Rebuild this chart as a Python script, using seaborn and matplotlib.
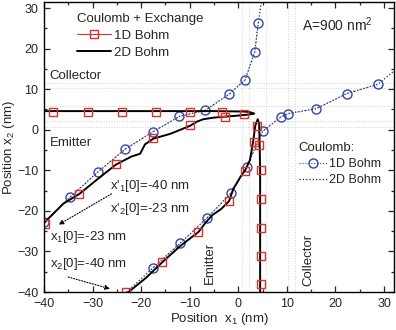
import seaborn as sns
import matplotlib.pyplot as plt
from matplotlib.lines import Line2D

sns.set_theme(
    style="ticks",
    rc={
        "axes.linewidth": 1.0,
        "xtick.labelsize": 9,
        "ytick.labelsize": 9,
        "axes.labelsize": 9.5,
        "legend.fontsize": 9.5,
        "mathtext.default": "regular",
    },
)
plt.rcParams["font.family"] = ["Liberation Sans", "DejaVu Sans"]

RED = "#e0302a"
BLUE = "#3346a8"

# Coulomb + Exchange, 2D Bohm (black solid), two trajectories
exA_x = [-40, -36, -32.7, -29, -25.2, -22.0, -20.2, -19.2, -17.5, -14.0, -11.3, -9.9,
         -8.5, -7.2, -5.0, -3.1, 0.0, 2.4, 3.3, 2.2, 1.0, -5, -20, -40]
exA_y = [-23.0, -18.2, -15.8, -12.2, -8.6, -6.6, -5.9, -3.6, -2.2, -1.0, 0.3, 1.0,
         2.0, 2.6, 3.0, 3.2, 3.5, 3.8, 4.0, 4.4, 4.5, 4.6, 4.6, 4.6]
exB_x = [-22.6, -19.0, -15.6, -12.0, -8.2, -6.8, -5.3, -3.5, -1.9, -1.0, 0.5, 1.4,
         2.4, 3.1, 3.5, 4.0, 4.3, 4.4, 4.5, 4.5]
exB_y = [-40, -36.5, -32.6, -28.7, -25.2, -23.0, -21.0, -19.5, -17.6, -14.5, -11.5, -10.0,
         -7.5, -2.6, 1.0, 2.6, 1.5, -3.4, -10, -40]

# Coulomb + Exchange, 1D Bohm (red squares)
sqA_x = [-39.8, -32.8, -25.2, -17.5, -9.9, -2.7, 1.2, -3.4, -9.9, -17.0, -24.0, -31.0, -38.2]
sqA_y = [-23.2, -15.8, -8.5, -2.0, 1.1, 3.2, 3.8, 4.3, 4.4, 4.4, 4.4, 4.4, 4.4]
sqB_x = [-23.1, -15.7, -8.2, -1.9, 1.4, 3.3, 3.9, 4.3, 4.6, 4.6, 4.6, 4.6, 4.6]
sqB_y = [-40.0, -32.6, -25.2, -17.6, -10.2, -3.0, 0.9, -3.8, -9.8, -17.0, -24.2, -31.0, -38.0]

# Coulomb only, 1D Bohm (blue circles)
ciA_x = [-40, -34.6, -28.9, -23.3, -17.6, -12.1, -6.8, -1.85, 1.4, 3.4, 4.1]
ciA_y = [-22.8, -16.6, -10.4, -4.8, -0.5, 3.3, 4.8, 8.8, 12.3, 19.2, 26.2]
ciB_x = [-17.6, -12.0, -6.5, -1.4, 1.7, 5.0, 8.7, 10.3, 16.0, 22.3, 28.7]
ciB_y = [-34.1, -28.0, -21.8, -15.5, -9.2, -0.4, 3.1, 4.0, 5.2, 8.9, 11.2]

# Coulomb only, 2D Bohm (black dotted)
cA_x = [-40, -34.6, -28.9, -23.3, -17.6, -12.1, -6.8, -1.85, 1.4, 3.4, 4.1, 4.8]
cA_y = [-22.8, -16.6, -10.4, -4.8, -0.5, 3.3, 4.8, 8.8, 12.3, 19.2, 26.2, 32]
cB_x = [-23.0, -17.6, -12.0, -6.5, -1.4, 1.7, 5.0, 8.7, 10.3, 16.0, 22.3, 28.7, 32.5]
cB_y = [-40.0, -34.1, -28.0, -21.8, -15.5, -9.2, -0.4, 3.1, 4.0, 5.2, 8.9, 11.2, 14.9]

# barrier edges (dotted guides)
edges = [0.8, 2.2, 5.8, 10.2, 11.6]

fig = plt.figure(figsize=(3.96, 3.30), dpi=100)
ax = fig.add_axes([0.111, 0.115, 0.884, 0.879])

for e in edges:
    ax.axvline(e, color="#cfd8cc", lw=0.7, ls=":", zorder=0)
    ax.axhline(e, color="#cfd8cc", lw=0.7, ls=":", zorder=0)

for xs, ys in [(cA_x, cA_y), (cB_x, cB_y)]:
    sns.lineplot(x=xs, y=ys, sort=False, estimator=None, ax=ax,
                 color="#222244", lw=0.9, ls=":")
for xs, ys in [(ciA_x, ciA_y), (ciB_x, ciB_y)]:
    sns.lineplot(x=xs, y=ys, sort=False, estimator=None, ax=ax,
                 color=BLUE, lw=0.6, ls=":", marker="o", markersize=6.5,
                 markerfacecolor="none", markeredgecolor=BLUE, markeredgewidth=1.0)
for xs, ys in [(exA_x, exA_y), (exB_x, exB_y)]:
    sns.lineplot(x=xs, y=ys, sort=False, estimator=None, ax=ax,
                 color="black", lw=1.4)
for xs, ys in [(sqA_x, sqA_y), (sqB_x, sqB_y)]:
    sns.lineplot(x=xs, y=ys, sort=False, estimator=None, ax=ax,
                 color=RED, lw=0, marker="s", markersize=6,
                 markerfacecolor="none", markeredgecolor=RED, markeredgewidth=1.0)

ax.set_xlim(-40, 32.06)
ax.set_ylim(-40, 31.5)
ax.set_xticks(range(-40, 31, 10))
ax.set_yticks(range(-40, 31, 10))
ax.set_xticks(range(-35, 32, 10), minor=True)
ax.set_yticks(range(-35, 32, 10), minor=True)
ax.tick_params(which="both", direction="in", top=True, right=True, width=0.9)
ax.tick_params(which="major", length=4, pad=4)
ax.tick_params(which="minor", length=2.5)
for s in ax.spines.values():
    s.set_color("black")
ax.set_xlabel("Position  x$_1$ (nm)", labelpad=1)
ax.set_ylabel("Position x$_2$ (nm)", labelpad=0)

# text labels
ax.text(-38.8, -3.3, "Emitter", fontsize=9.5, va="center")
ax.text(-38.8, 13.2, "Collector", fontsize=9.5, va="center")
ax.text(-5.8, -32.8, "Emitter", fontsize=9.5, rotation=90, ha="center", va="center")
ax.text(14.4, -32.2, "Collector", fontsize=9.5, rotation=90, ha="center", va="center")
ax.text(13.1, 25.8, "A=900 nm$^2$", fontsize=10, va="center")
ax.text(-26.4, -13.9, "x'$_1$[0]=-40 nm", fontsize=9.5, va="center")
ax.text(-26.4, -19.5, "x'$_2$[0]=-23 nm", fontsize=9.5, va="center")
ax.text(-38.8, -26.5, "x$_1$[0]=-23 nm", fontsize=9.5, va="center")
ax.text(-38.8, -33.0, "x$_2$[0]=-40 nm", fontsize=9.5, va="center")

arrow = dict(arrowstyle="-|>", linestyle=(0, (1, 1.5)), color="black", lw=0.8,
             mutation_scale=7, shrinkA=0, shrinkB=0)
ax.annotate("", xy=(-37.0, -23.4), xytext=(-26.1, -15.8), arrowprops=arrow)
ax.annotate("", xy=(-26.4, -39.2), xytext=(-35.0, -36.3), arrowprops=arrow)

# legends
h1 = [Line2D([], [], color=RED, lw=0.8, marker="s", markersize=6,
             markerfacecolor="none", markeredgecolor=RED),
      Line2D([], [], color="black", lw=1.4)]
leg1 = ax.legend(h1, ["1D Bohm", "2D Bohm"], title="Coulomb + Exchange",
                 loc="upper left", bbox_to_anchor=(0.075, 0.985), frameon=False,
                 handlelength=2.6, handletextpad=0.2, borderpad=0, labelspacing=0.35,
                 title_fontsize=9.5, alignment="left")
ax.add_artist(leg1)
h2 = [Line2D([], [], color=BLUE, lw=0.8, ls=":", marker="o", markersize=6.5,
             markerfacecolor="none", markeredgecolor=BLUE),
      Line2D([], [], color="#222244", lw=0.9, ls=":")]
ax.legend(h2, ["1D Bohm", "2D Bohm"], title="Coulomb:",
          loc="upper left", bbox_to_anchor=(0.71, 0.54), frameon=False,
          handlelength=2.3, handletextpad=0.1, borderpad=0, labelspacing=0.35,
          fontsize=9, title_fontsize=9.5, alignment="left")

fig.savefig("out.png", dpi=100)
